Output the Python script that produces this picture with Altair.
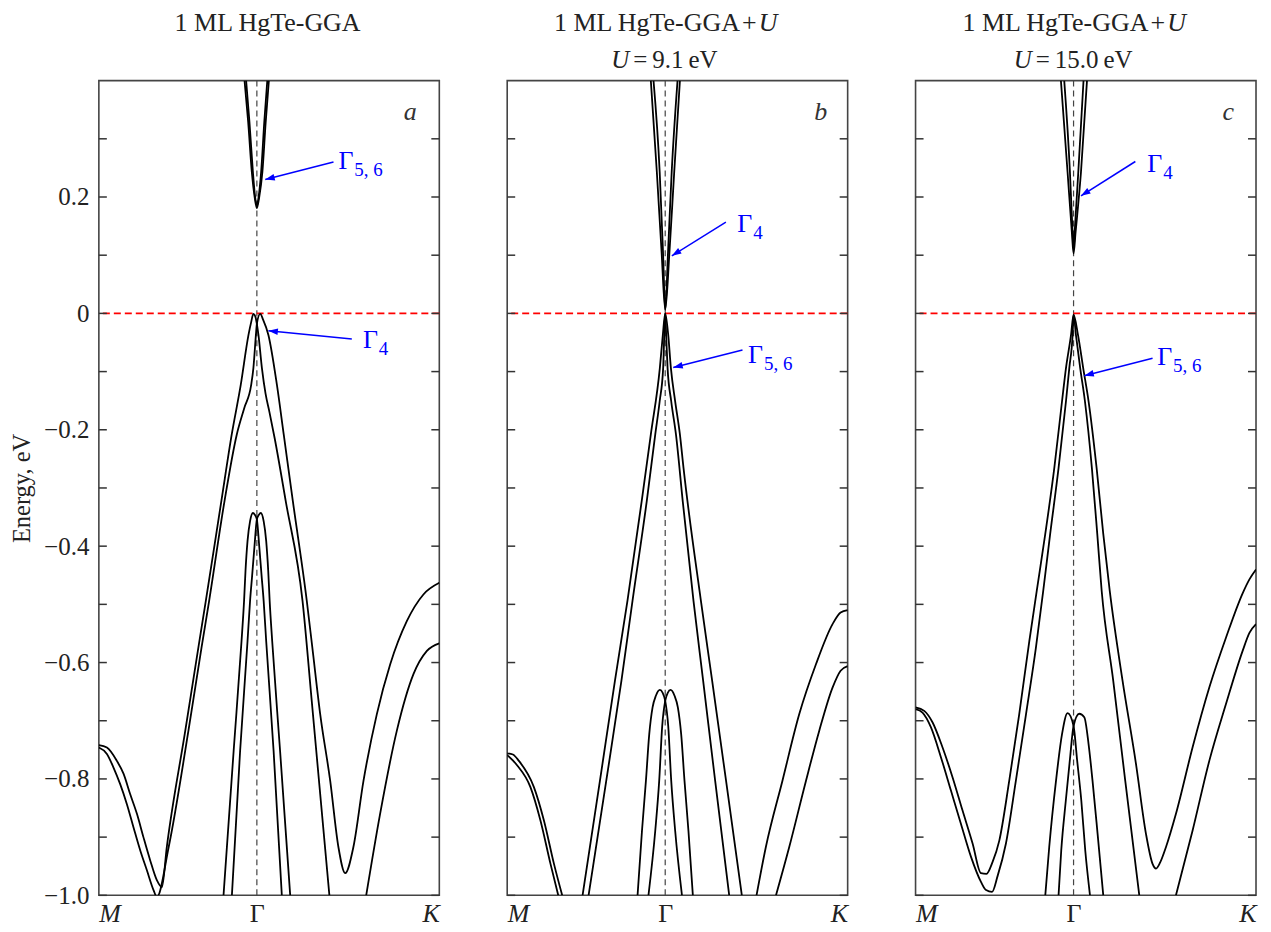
import math
import altair as alt
import pandas as pd

SERIF = "Liberation Serif"
K_END = 2.1547          # path length M -> Gamma (1) -> K
W, H = 341, 816
E_MIN, E_MAX = -1.0, 0.4

x_points = [0.0, 1.0, K_END]
y_ticks = [round(-1.0 + 0.1 * i, 1) for i in range(14)]

# ---------------- panel a : GGA ----------------
a_cb1_k = [0.922, 0.945, 0.968, 0.986, 1.000, 1.015, 1.035, 1.056, 1.076]
a_cb1_e = [0.400, 0.329, 0.243, 0.200, 0.181, 0.200, 0.243, 0.329, 0.400]
a_cb2_k = [0.932, 0.953, 0.975, 0.989, 1.000, 1.011, 1.027, 1.047, 1.066]
a_cb2_e = [0.400, 0.329, 0.243, 0.200, 0.185, 0.200, 0.243, 0.329, 0.400]
a_v1_k = [0.000, 0.051, 0.114, 0.156, 0.198, 0.241, 0.282, 0.325, 0.367, 0.399,
          0.430, 0.547, 0.630, 0.677, 0.775, 0.841, 0.898, 0.947, 0.964, 0.978,
          0.991, 1.000, 1.010, 1.032, 1.055, 1.080, 1.113, 1.183, 1.289, 1.347, 1.459]
a_v1_e = [-0.742, -0.746, -0.769, -0.791, -0.826, -0.860, -0.900, -0.940, -0.974, -0.986,
          -0.917, -0.717, -0.574, -0.494, -0.323, -0.208, -0.123, -0.037, -0.015, -0.001,
          -0.006, -0.018, -0.037, -0.094, -0.138, -0.170, -0.215, -0.323, -0.494, -0.665, -1.000]
a_v2_k = [0.000, 0.051, 0.092, 0.135, 0.177, 0.219, 0.262, 0.304, 0.346, 0.367,
          0.442, 0.567, 0.650, 0.698, 0.795, 0.873, 0.920, 0.964, 0.978, 0.994,
          1.000, 1.021, 1.040, 1.073, 1.127, 1.170, 1.228, 1.316, 1.351, 1.401,
          1.464, 1.516, 1.559, 1.611, 1.675, 1.759, 1.844, 1.949, 2.054, 2.1547]
a_v2_e = [-0.746, -0.757, -0.780, -0.809, -0.843, -0.883, -0.923, -0.957, -0.991, -1.003,
          -0.917, -0.717, -0.574, -0.494, -0.323, -0.208, -0.163, -0.123, -0.094, -0.037,
          -0.018, -0.001, -0.011, -0.037, -0.123, -0.208, -0.323, -0.494, -0.574, -0.689,
          -0.803, -0.917, -0.962, -0.917, -0.803, -0.689, -0.603, -0.529, -0.483, -0.463]
a_v1k_k = [1.692, 1.780, 1.886, 1.991, 2.076, 2.1547]
a_v1k_e = [-1.000, -0.860, -0.717, -0.620, -0.580, -0.567]
a_v3_k = [0.789, 0.853, 0.903, 0.919, 0.928, 0.941, 0.957, 0.975, 0.987, 1.000,
          1.015, 1.030, 1.043, 1.059, 1.106, 1.158]
a_v3_e = [-1.000, -0.752, -0.563, -0.494, -0.443, -0.391, -0.357, -0.343, -0.346, -0.354,
          -0.400, -0.451, -0.494, -0.563, -0.752, -1.000]
a_v4_k = [0.842, 0.894, 0.941, 0.957, 0.970, 0.985, 1.000, 1.013, 1.025, 1.043,
          1.059, 1.072, 1.081, 1.097, 1.147, 1.211]
a_v4_e = [-1.000, -0.752, -0.563, -0.494, -0.451, -0.400, -0.354, -0.346, -0.343, -0.357,
          -0.391, -0.443, -0.494, -0.563, -0.752, -1.000]

# ---------------- panel b : GGA+U, U = 9.1 eV ----------------
b_cb1_k = [0.909, 0.947, 0.977, 1.000, 1.027, 1.057, 1.093]
b_cb1_e = [0.400, 0.243, 0.106, 0.006, 0.106, 0.243, 0.400]
b_cb2_k = [0.926, 0.965, 0.986, 1.000, 1.018, 1.041, 1.078]
b_cb2_e = [0.400, 0.243, 0.106, 0.006, 0.106, 0.243, 0.400]
b_v1_k = [0.477, 0.587, 0.682, 0.761, 0.851, 0.909, 0.966, 0.985, 1.000,
          1.006, 1.015, 1.038, 1.068, 1.111, 1.179, 1.240, 1.316, 1.405]
b_v1_e = [-1.000, -0.803, -0.631, -0.494, -0.323, -0.208, -0.094, -0.037, 0.000,
          -0.037, -0.094, -0.151, -0.208, -0.323, -0.494, -0.631, -0.803, -1.000]
b_v2_k = [0.515, 0.627, 0.723, 0.793, 0.883, 0.937, 0.965, 0.987, 0.994, 1.000,
          1.019, 1.036, 1.063, 1.093, 1.116, 1.226, 1.297, 1.385, 1.485]
b_v2_e = [-1.000, -0.803, -0.631, -0.494, -0.323, -0.208, -0.151, -0.094, -0.037, 0.000,
          -0.037, -0.094, -0.151, -0.208, -0.266, -0.494, -0.631, -0.803, -1.000]
b_v3_k = [0.825, 0.853, 0.878, 0.899, 0.920, 0.941, 0.966, 0.984, 1.000,
          1.019, 1.038, 1.063, 1.106]
b_v3_e = [-1.000, -0.889, -0.803, -0.723, -0.677, -0.657, -0.647, -0.652, -0.666,
          -0.709, -0.803, -0.889, -1.000]
b_v4_k = [0.894, 0.937, 0.962, 0.981, 1.000, 1.016, 1.034, 1.059, 1.080,
          1.101, 1.122, 1.147, 1.175]
b_v4_e = [-1.000, -0.889, -0.803, -0.709, -0.666, -0.652, -0.647, -0.657, -0.677,
          -0.723, -0.803, -0.889, -1.000]
b_m1_k = [0.000, 0.036, 0.074, 0.169, 0.232, 0.296, 0.348]
b_m1_e = [-0.756, -0.758, -0.769, -0.814, -0.871, -0.946, -1.000]
b_m2_k = [0.000, 0.061, 0.147, 0.210, 0.274, 0.323]
b_m2_e = [-0.759, -0.776, -0.814, -0.871, -0.946, -1.000]
b_k1_k = [1.578, 1.637, 1.742, 1.848, 1.954, 2.059, 2.110, 2.1547]
b_k1_e = [-1.000, -0.917, -0.803, -0.689, -0.603, -0.534, -0.514, -0.510]
b_k2_k = [1.701, 1.785, 1.891, 1.975, 2.059, 2.110, 2.1547]
b_k2_e = [-1.000, -0.917, -0.803, -0.717, -0.643, -0.614, -0.606]

# ---------------- panel c : GGA+U, U = 15.0 eV ----------------
c_cb1_k = [0.920, 0.962, 0.989, 1.000, 1.013, 1.047, 1.085]
c_cb1_e = [0.400, 0.243, 0.140, 0.103, 0.140, 0.243, 0.400]
c_cb2_k = [0.941, 0.977, 0.993, 1.000, 1.008, 1.030, 1.063]
c_cb2_e = [0.400, 0.243, 0.144, 0.109, 0.144, 0.243, 0.400]
c_v1_k = [0.000, 0.055, 0.108, 0.171, 0.234, 0.297, 0.361, 0.414, 0.449, 0.487,
          0.530, 0.593, 0.656, 0.720, 0.767, 0.821, 0.878, 0.927, 0.952, 0.984,
          1.000, 1.015, 1.042, 1.072, 1.116, 1.150, 1.178, 1.251, 1.327, 1.416]
c_v1_e = [-0.677, -0.683, -0.703, -0.746, -0.797, -0.854, -0.911, -0.962, -0.963, -0.943,
          -0.906, -0.803, -0.689, -0.563, -0.477, -0.379, -0.266, -0.151, -0.094, -0.037,
          -0.002, -0.037, -0.094, -0.151, -0.266, -0.379, -0.477, -0.631, -0.803, -1.000]
c_v2_k = [0.000, 0.044, 0.097, 0.161, 0.224, 0.287, 0.351, 0.414, 0.446, 0.484,
          0.519, 0.572, 0.635, 0.699, 0.762, 0.808, 0.852, 0.905, 0.952, 0.973,
          0.994, 1.000, 1.028, 1.061, 1.095, 1.146, 1.188, 1.229, 1.310, 1.395,
          1.458, 1.500, 1.522, 1.549, 1.585, 1.648, 1.753, 1.859, 1.965, 2.070,
          2.113, 2.1547]
c_v2_e = [-0.680, -0.686, -0.711, -0.763, -0.820, -0.877, -0.934, -0.977, -0.991, -0.994,
          -0.967, -0.911, -0.803, -0.689, -0.574, -0.477, -0.379, -0.266, -0.151, -0.094,
          -0.037, -0.002, -0.037, -0.094, -0.151, -0.266, -0.379, -0.477, -0.631, -0.774,
          -0.894, -0.946, -0.954, -0.943, -0.917, -0.860, -0.746, -0.643, -0.557, -0.481,
          -0.457, -0.440]
c_v3_k = [0.821, 0.846, 0.889, 0.927, 0.962, 1.000, 1.023, 1.049, 1.074, 1.104]
c_v3_e = [-1.000, -0.917, -0.803, -0.723, -0.687, -0.709, -0.769, -0.837, -0.923, -1.000]
c_v4_k = [0.905, 0.922, 0.951, 0.976, 1.000, 1.036, 1.068, 1.095, 1.120, 1.152, 1.188]
c_v4_e = [-1.000, -0.923, -0.837, -0.769, -0.709, -0.688, -0.694, -0.740, -0.803, -0.894, -1.000]
c_k2_k = [1.648, 1.753, 1.859, 1.965, 2.070, 2.113, 2.1547]
c_k2_e = [-1.000, -0.889, -0.769, -0.671, -0.580, -0.549, -0.534]

# ---------------- annotations (Gamma labels with arrows) ----------------
a_sub = ["5, 6", "4"]
a_lab_k = [1.516, 1.671]
a_lab_e = [0.248, -0.060]
a_from_k = [1.485, 1.601]
a_from_e = [0.260, -0.044]
a_to_k = [1.053, 1.073]
a_to_e = [0.230, -0.030]

b_sub = ["4", "5, 6"]
b_lab_k = [1.456, 1.524]
b_lab_e = [0.140, -0.086]
b_from_k = [1.384, 1.489]
b_from_e = [0.157, -0.063]
b_to_k = [1.042, 1.051]
b_to_e = [0.099, -0.093]

c_sub = ["4", "5, 6"]
c_lab_k = [1.467, 1.529]
c_lab_e = [0.243, -0.088]
c_from_k = [1.391, 1.500]
c_from_e = [0.261, -0.077]
c_to_k = [1.047, 1.068]
c_to_e = [0.202, -0.107]

letters = ["a", "b", "c"]
letter_k = [1.970, 1.984, 1.979]
letter_e = [0.332, 0.332, 0.332]

# title segments: (text, k position, line, align, style, dx, size)
a_title = [("1 ML HgTe-GGA", 1.068, 0, "center", "normal", 0, 26)]
b_title = [("1 ML HgTe-GGA\u200a+", 1.579, 0, "right", "normal", 0, 26),
           ("U", 1.579, 0, "left", "italic", 2, 26),
           ("U", 0.772, 1, "right", "italic", 0, 25),
           ("=\u20099.1\u2009eV", 0.772, 1, "left", "normal", 4, 25)]
c_title = [("1 ML HgTe-GGA\u200a+", 1.580, 0, "right", "normal", 0, 26),
           ("U", 1.580, 0, "left", "italic", 2, 26),
           ("U", 0.735, 1, "right", "italic", 0, 25),
           ("=\u200915.0\u2009eV", 0.735, 1, "left", "normal", 4, 25)]
TITLE_Y = [-50, -13]

ARROW = "M0,0L-2,-0.7L-2,0.7Z"


def bands_frame(spec):
    rows = []
    for name, ks, es in spec:
        for i, (k, e) in enumerate(zip(ks, es)):
            rows.append({"band": name, "i": i, "k": k, "E": e})
    return pd.DataFrame(rows)


def ann_frame(subs, lk, le, fk, fe, tk, te):
    pxk = W / K_END
    pxe = H / (E_MAX - E_MIN)
    rows = []
    for s, a, b, c, d, e, f in zip(subs, lk, le, fk, fe, tk, te):
        dx = (e - c) * pxk
        dy = -(f - d) * pxe
        ang = math.degrees(math.atan2(dy, dx)) % 360
        rows.append({"main": "Γ", "sub": s, "kl": a, "El": b,
                     "k0": c, "E0": d, "k1": e, "E1": f, "ang": ang})
    return pd.DataFrame(rows)


xs = alt.Scale(domain=[0, K_END], nice=False, zero=False)
ys = alt.Scale(domain=[E_MIN, E_MAX], nice=False, zero=False)
xaxis = alt.Axis(values=x_points, title=None, grid=False, ticks=False, tickSize=0,
                 domain=False, labelFlush=True, labelFont=SERIF, labelFontSize=26,
                 labelColor="#222", labelPadding=5,
                 labelExpr="datum.value < 0.5 ? 'M' : (datum.value < 1.5 ? 'Γ' : 'K')",
                 labelFontStyle={"condition": {"test": "datum.value > 0.5 && datum.value < 1.5",
                                               "value": "normal"},
                                 "value": "italic"})
yaxis_a = alt.Axis(values=y_ticks, title="Energy, eV", grid=False, ticks=False, tickSize=0,
                   domain=False, labelFont=SERIF, labelFontSize=25, labelColor="#222",
                   labelPadding=10, titleFont=SERIF, titleFontSize=24.5,
                   titleFontWeight="normal", titleColor="#222", titlePadding=9,
                   labelExpr="abs(round(datum.value*10)) % 2 == 1 ? '' : "
                             "(abs(datum.value) < 1e-9 ? '0' : format(datum.value, '.1f'))")


def panel(spec, ann, letter_idx, title_segs, show_y):
    yaxis = yaxis_a if show_y else None

    def X(f):
        return alt.X(f, type="quantitative", scale=xs, axis=xaxis)

    def Y(f):
        return alt.Y(f, type="quantitative", scale=ys, axis=yaxis)

    tick_df = pd.DataFrame({"E": y_ticks})
    layers = []
    layers.append(alt.Chart(pd.DataFrame({"k": [1.0]})).mark_rule(
        color="#444", strokeDash=[6, 4], strokeWidth=1.2).encode(x=X("k")))
    layers.append(alt.Chart(pd.DataFrame({"E": [0.0]})).mark_rule(
        color="#ff0000", strokeDash=[7, 4], strokeWidth=1.6).encode(y=Y("E")))
    layers.append(alt.Chart(bands_frame(spec)).mark_line(
        color="black", strokeWidth=1.8, clip=True, interpolate="monotone").encode(
        x=X("k"), y=Y("E"), detail="band:N", order="i:Q"))
    layers.append(alt.Chart(tick_df).mark_rule(color="#333", strokeWidth=1.5).encode(
        y=Y("E"), x=alt.value(0), x2=alt.value(8)))
    layers.append(alt.Chart(tick_df).mark_rule(color="#333", strokeWidth=1.5).encode(
        y=Y("E"), x=alt.value(W - 8), x2=alt.value(W)))
    layers.append(alt.Chart(ann).mark_rule(color="#0000ff", strokeWidth=1.5).encode(
        x=X("k0"), y=Y("E0"), x2="k1:Q", y2="E1:Q"))
    layers.append(alt.Chart(ann).mark_point(
        shape=ARROW, filled=True, color="#0000ff", size=90, opacity=1, strokeWidth=0).encode(
        x=X("k1"), y=Y("E1"), angle=alt.Angle("ang:Q", scale=None)))
    layers.append(alt.Chart(ann).mark_text(
        font=SERIF, fontSize=26, color="#0000ff", align="left", baseline="alphabetic").encode(
        x=X("kl"), y=Y("El"), text="main:N"))
    layers.append(alt.Chart(ann).mark_text(
        font=SERIF, fontSize=19, color="#0000ff", align="left", baseline="alphabetic",
        dx=16, dy=7).encode(x=X("kl"), y=Y("El"), text="sub:N"))
    lt = pd.DataFrame({"k": [letter_k[letter_idx]], "E": [letter_e[letter_idx]],
                       "t": [letters[letter_idx]]})
    layers.append(alt.Chart(lt).mark_text(
        font=SERIF, fontSize=26, fontStyle="italic", color="#333", align="center",
        baseline="alphabetic").encode(x=X("k"), y=Y("E"), text="t:N"))
    for text, kpos, line, align, style, dx, size in title_segs:
        tdf = pd.DataFrame({"k": [kpos], "t": [text]})
        layers.append(alt.Chart(tdf).mark_text(
            font=SERIF, fontSize=size, fontStyle=style, color="#222", align=align,
            baseline="alphabetic", dx=dx).encode(
            x=X("k"), y=alt.value(TITLE_Y[line]), text="t:N"))
    return alt.layer(*layers).properties(width=W, height=H)


spec_a = [("cb1", a_cb1_k, a_cb1_e), ("cb2", a_cb2_k, a_cb2_e),
          ("v1", a_v1_k, a_v1_e), ("v2", a_v2_k, a_v2_e), ("v1k", a_v1k_k, a_v1k_e),
          ("v3", a_v3_k, a_v3_e), ("v4", a_v4_k, a_v4_e)]
spec_b = [("cb1", b_cb1_k, b_cb1_e), ("cb2", b_cb2_k, b_cb2_e),
          ("v1", b_v1_k, b_v1_e), ("v2", b_v2_k, b_v2_e),
          ("v3", b_v3_k, b_v3_e), ("v4", b_v4_k, b_v4_e),
          ("m1", b_m1_k, b_m1_e), ("m2", b_m2_k, b_m2_e),
          ("k1", b_k1_k, b_k1_e), ("k2", b_k2_k, b_k2_e)]
spec_c = [("cb1", c_cb1_k, c_cb1_e), ("cb2", c_cb2_k, c_cb2_e),
          ("v1", c_v1_k, c_v1_e), ("v2", c_v2_k, c_v2_e),
          ("v3", c_v3_k, c_v3_e), ("v4", c_v4_k, c_v4_e), ("k2", c_k2_k, c_k2_e)]

pa = panel(spec_a, ann_frame(a_sub, a_lab_k, a_lab_e, a_from_k, a_from_e, a_to_k, a_to_e),
           0, a_title, True)
pb = panel(spec_b, ann_frame(b_sub, b_lab_k, b_lab_e, b_from_k, b_from_e, b_to_k, b_to_e),
           1, b_title, False)
pc = panel(spec_c, ann_frame(c_sub, c_lab_k, c_lab_e, c_from_k, c_from_e, c_to_k, c_to_e),
           2, c_title, False)

chart = alt.hconcat(pa, pb, pc, spacing=68, bounds="flush").properties(
    padding={"left": 0, "top": 0, "right": 5, "bottom": 0}
).configure_view(stroke="#444", strokeWidth=1.6)

chart.save("out.html", embed_options={"renderer": "svg", "actions": False})
